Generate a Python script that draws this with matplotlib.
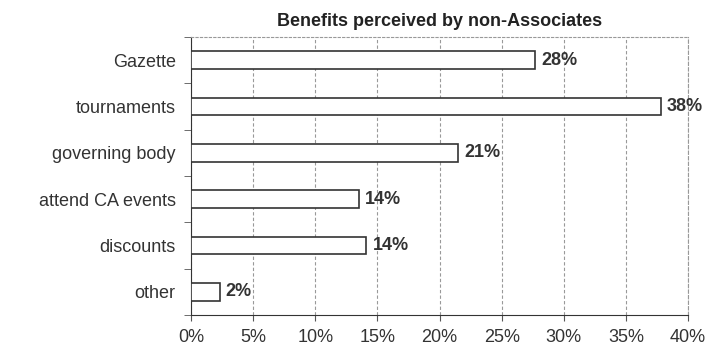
import numpy as np
import matplotlib.pyplot as plt
from matplotlib.ticker import FixedLocator

plt.rcParams['font.family'] = ['Liberation Sans', 'DejaVu Sans']

categories = ['Gazette', 'tournaments', 'governing body', 'attend CA events', 'discounts', 'other']
values = [27.7, 37.8, 21.5, 13.5, 14.1, 2.3]
labels = ['28%', '38%', '21%', '14%', '14%', '2%']
xticks = [0, 5, 10, 15, 20, 25, 30, 35, 40]

fig = plt.figure(figsize=(7.09, 3.49), dpi=100)
ax = fig.add_axes([0.2694, 0.0974, 0.7010, 0.7966])

y = np.arange(len(categories))
ax.barh(y, values, height=0.38, color='white', edgecolor='#333333', linewidth=1.2, zorder=3)

for yi, v, lab in zip(y, values, labels):
    ax.text(v + 0.5, yi, lab, va='center', ha='left', fontsize=13, fontweight='bold', color='#333333')

ax.set_xlim(0, 40)
ax.set_ylim(len(categories) - 0.5, -0.5)
ax.set_xticks(xticks)
ax.set_xticklabels([f'{t}%' for t in xticks], fontsize=13, color='#333333')
ax.set_yticks(y)
ax.set_yticklabels(categories, fontsize=13, color='#333333')
ax.tick_params(axis='y', length=0, pad=11)
ax.yaxis.set_minor_locator(FixedLocator(np.arange(-0.5, len(categories), 1)))
ax.tick_params(axis='y', which='minor', length=5, color='#555555')
ax.tick_params(axis='x', length=4, color='#555555', pad=6)

ax.grid(axis='x', linestyle=(0, (3, 2)), color='#999999', linewidth=0.8, zorder=0)
ax.spines['left'].set_color('#333333')
ax.spines['bottom'].set_color('#333333')
ax.spines['top'].set_linestyle((0, (2, 2)))
ax.spines['top'].set_color('#999999')
ax.spines['right'].set_linestyle((0, (3, 2)))
ax.spines['right'].set_color('#999999')

ax.set_title('Benefits perceived by non-Associates', fontsize=13, fontweight='bold', color='#222222', pad=8)

fig.savefig('out.png')
